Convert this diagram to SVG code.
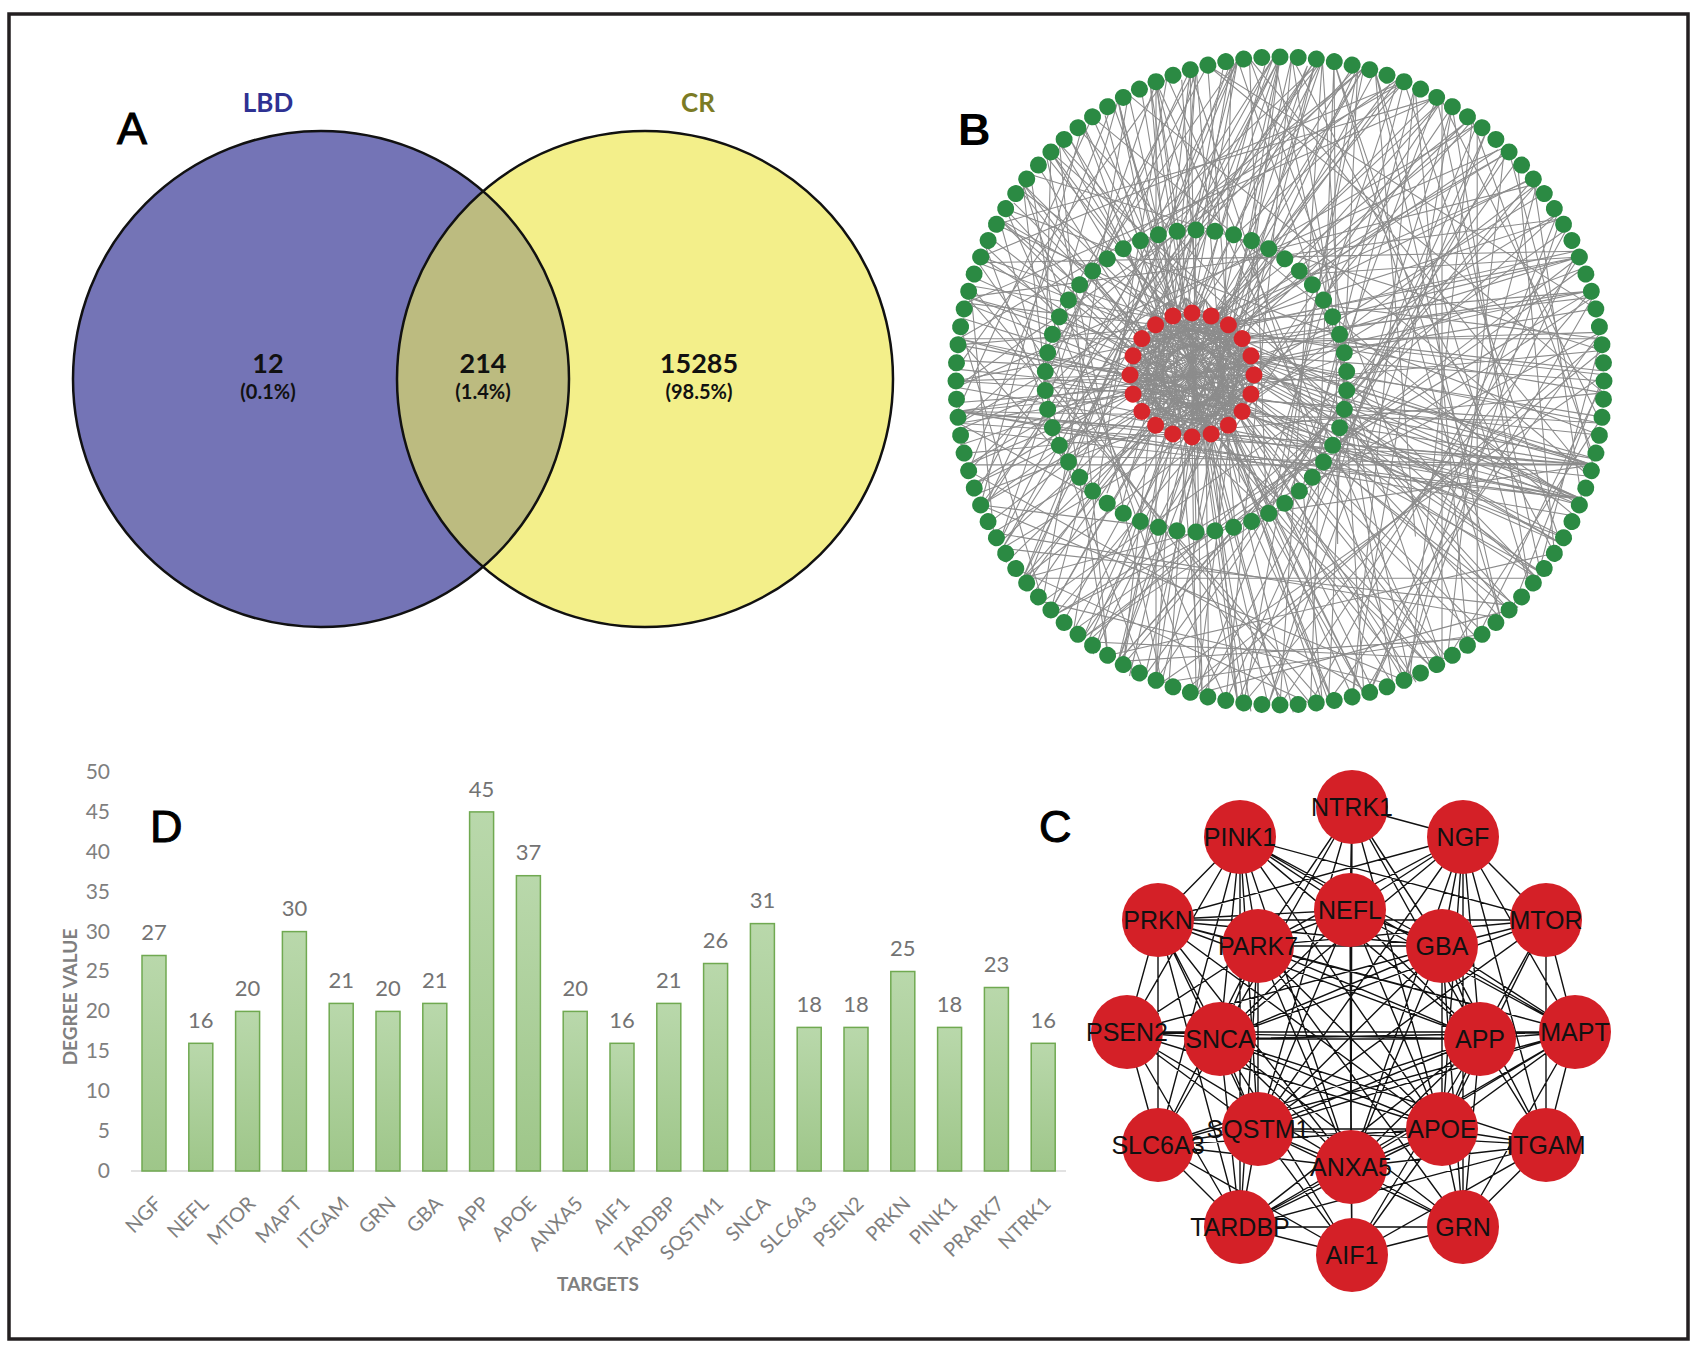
<svg xmlns="http://www.w3.org/2000/svg" xmlns:xlink="http://www.w3.org/1999/xlink" width="1700" height="1350" viewBox="0 0 1700 1350">
<style>
.pl{font-family:"Liberation Sans",Arial,sans-serif;font-size:45px;fill:#000;stroke:#000;stroke-width:1}
.vn{font-family:Lato,"Open Sans",sans-serif;font-weight:700;text-anchor:middle;fill:#111}
.tick{font-family:Lato,"Open Sans",sans-serif;font-size:21px;fill:#7f7f7f;text-anchor:end}
.dl{font-family:Lato,"Open Sans",sans-serif;font-size:22px;fill:#737373;text-anchor:middle}
.cat{font-family:Lato,"Open Sans",sans-serif;font-size:20px;fill:#7f7f7f;text-anchor:end}
.ax{font-family:Lato,"Open Sans",sans-serif;font-size:19px;font-weight:700;fill:#7f7f7f;text-anchor:middle}
.bar{fill:url(#bg);stroke:#70a951;stroke-width:1.5}
.cn{fill:#d42027}
.cl{font-family:"Liberation Sans",Arial,sans-serif;font-size:25px;text-anchor:middle;fill:#111}
.ce{stroke:#111;stroke-width:1.4;fill:none}
.be{stroke:#8c8c8c;stroke-width:1.1;fill:none}
</style>
<defs>
<linearGradient id="bg" x1="0" y1="0" x2="0" y2="1">
<stop offset="0" stop-color="#b9d8ab"/>
<stop offset="1" stop-color="#9ec689"/>
</linearGradient>
<clipPath id="clipL"><circle cx="321" cy="379" r="248"/></clipPath>
<circle id="gn" cx="0" cy="-324" r="8.5" fill="#2b8a43"/>
<circle id="gm" cx="0" cy="-151" r="8.5" fill="#2b8a43"/>
<circle id="rn" cx="0" cy="-62" r="8.5" fill="#d7262b"/>
<g id="o4"><use xlink:href="#gn"/><use xlink:href="#gn" transform="rotate(3.2143)"/><use xlink:href="#gn" transform="rotate(6.4286)"/><use xlink:href="#gn" transform="rotate(9.6429)"/></g>
<g id="m5"><use xlink:href="#gm"/><use xlink:href="#gm" transform="rotate(7.2)"/><use xlink:href="#gm" transform="rotate(14.4)"/><use xlink:href="#gm" transform="rotate(21.6)"/><use xlink:href="#gm" transform="rotate(28.8)"/></g>
<g id="r5"><use xlink:href="#rn"/><use xlink:href="#rn" transform="rotate(18)"/><use xlink:href="#rn" transform="rotate(36)"/><use xlink:href="#rn" transform="rotate(54)"/><use xlink:href="#rn" transform="rotate(72)"/></g>
</defs>
<rect x="0" y="0" width="1700" height="1350" fill="#fff"/>
<rect x="9" y="14" width="1679" height="1325" fill="#fff" stroke="#231f20" stroke-width="3.5"/>

<!-- Panel A: Venn -->
<g id="panelA">
<g id="venn-LBD"><circle cx="321" cy="379" r="248" fill="#7474b6"/></g>
<g id="venn-CR"><circle cx="645" cy="379" r="248" fill="#f3ef8a"/></g>
<g id="venn-overlap"><circle cx="645" cy="379" r="248" fill="#bcbb80" clip-path="url(#clipL)"/></g>
<circle cx="321" cy="379" r="248" fill="none" stroke="#111" stroke-width="2.5"/>
<circle cx="645" cy="379" r="248" fill="none" stroke="#111" stroke-width="2.5"/>
<text class="pl" x="117" y="144">A</text>
<text class="vn" x="268" y="112" font-size="26" style="fill:#2e3192">LBD</text>
<text class="vn" x="698" y="112" font-size="26" style="fill:#7b7b25">CR</text>
<text class="vn" x="268" y="373" font-size="27">12</text>
<text class="vn" x="268" y="399" font-size="20">(0.1%)</text>
<text class="vn" x="483" y="373" font-size="27">214</text>
<text class="vn" x="483" y="399" font-size="20">(1.4%)</text>
<text class="vn" x="699" y="373" font-size="27">15285</text>
<text class="vn" x="699" y="399" font-size="20">(98.5%)</text>
</g>

<!-- Panel B: network -->
<g id="panelB">
<text class="pl" x="958" y="145" font-weight="bold" font-size="46" style="stroke-width:0">B</text>
<g transform="translate(1280 381)">
<g id="B-connectors">
<path id="bIn" class="be" d="M-88 -68L-88 56M-68.8 -65L-107.2 53M-51.6 -56.2L-124.4 44.2M-37.8 -42.4L-138.2 30.4M-29 -25.2L-147 13.2M-26 -6L-150 -6M-29 13.2L-147 -25.2M-37.8 30.4L-138.2 -42.4M-51.6 44.2L-124.4 -56.2M-68.8 53L-107.2 -65M-88 -68L-37.8 30.4M-68.8 -65L-51.6 44.2M-51.6 -56.2L-68.8 53M-37.8 -42.4L-88 56M-29 -25.2L-107.2 53M-26 -6L-124.4 44.2M-29 13.2L-138.2 30.4M-37.8 30.4L-147 13.2M-51.6 44.2L-150 -6M-68.8 53L-147 -25.2M-88 56L-138.2 -42.4M-107.2 53L-124.4 -56.2M-124.4 44.2L-107.2 -65M-138.2 30.4L-88 -68M-147 13.2L-68.8 -65M-150 -6L-51.6 -56.2M-147 -25.2L-37.8 -42.4M-138.2 -42.4L-29 -25.2M-124.4 -56.2L-26 -6M-107.2 -65L-29 13.2M-88 -68L-26 -6M-51.6 -56.2L-147 13.2M-29 -25.2L-68.8 53M-29 13.2L-107.2 53M-51.6 44.2L-138.2 30.4M-88 56L-150 -6M-124.4 44.2L-138.2 -42.4M-147 13.2L-107.2 -65M-147 -25.2L-68.8 -65M-124.4 -56.2L-37.8 -42.4M-68.8 -65L-29 13.2M-37.8 -42.4L-51.6 44.2M-26 -6L-88 56M-37.8 30.4L-124.4 44.2M-68.8 53L-147 13.2M-107.2 53L-147 -25.2M-138.2 30.4L-124.4 -56.2M-150 -6L-88 -68M-138.2 -42.4L-51.6 -56.2M-107.2 -65L-29 -25.2"/>
<use xlink:href="#bIn" transform="rotate(9 -88 -6)"/>
<use xlink:href="#bIn" transform="translate(-176 0) scale(-1 1) rotate(5 88 -6)"/>
<path id="bRad" class="be" d="M-88 -68L0 -324M-88 -68L-42.3 -321.2M-88 -68L42.3 -321.2M-88 -68L-124 -299.3M-68.8 -65L83.9 -313M-68.8 -65L124 -299.3M-68.8 -65L162 -280.6M-51.6 -56.2L229.1 -229.1M-51.6 -56.2L280.6 -162M-51.6 -56.2L197.2 -257.1M-37.8 -42.4L313 -83.9M-37.8 -42.4L299.3 -124M-29 -25.2L324 0M-29 -25.2L313 83.9M-29 -25.2L321.2 42.3M-26 -6L299.3 124M-26 -6L280.6 162M-29 13.2L229.1 229.1M-29 13.2L257.1 197.2M-37.8 30.4L162 280.6M-37.8 30.4L124 299.3M-51.6 44.2L83.9 313M-51.6 44.2L42.3 321.2M-68.8 53L0 324M-68.8 53L-42.3 321.2M-88 56L-83.9 313M-88 56L-124 299.3M-107.2 53L-162 280.6M-107.2 53L-197.2 257.1M-124.4 44.2L-257.1 197.2M-124.4 44.2L-229.1 229.1M-138.2 30.4L-299.3 124M-138.2 30.4L-280.6 162M-147 13.2L-313 83.9M-147 13.2L-321.2 42.3M-150 -6L-324 0M-150 -6L-321.2 -42.3M-147 -25.2L-313 -83.9M-147 -25.2L-299.3 -124M-138.2 -42.4L-280.6 -162M-138.2 -42.4L-257.1 -197.2M-124.4 -56.2L-229.1 -229.1M-124.4 -56.2L-197.2 -257.1M-107.2 -65L-162 -280.6M-107.2 -65L-83.9 -313M-37.8 -42.4L-162 280.6M-124.4 44.2L162 -280.6M-147 -25.2L280.6 162M-37.8 30.4L-229.1 -229.1M-88 56L0 -324M-147 13.2L299.3 -124M-51.6 -56.2L-299.3 124M-124.4 -56.2L83.9 313"/>
<use xlink:href="#bRad" transform="rotate(5 -88 -6)"/>
<path id="bOut" class="be" d="M0 -324L-83.9 313M42.3 -321.2L83.9 313M-42.3 -321.2L162 280.6M42.3 -321.2L-162 280.6M0 -324L-84 151M-42.3 -321.2L-159.5 130.8M-83.9 -313L-44.9 145.9M83.9 -313L-8.5 130.8M124 -299.3L22.8 106.8M-124 -299.3L46.8 75.5M0 -324L-214.8 75.5M-42.3 -321.2L-257.1 197.2M42.3 -321.2L0 324M124 -299.3L280.6 162M162 -280.6L321.2 42.3M197.2 -257.1L197.2 257.1M229.1 -229.1L313 83.9M257.1 -197.2L124 299.3M299.3 -124L0 324M313 -83.9L-197.2 257.1M321.2 -42.3L257.1 197.2M313 83.9L-321.2 42.3M313 83.9L-313 83.9M313 83.9L-229.9 39.1M313 83.9L-214.8 75.5M313 83.9L-313 -83.9M321.2 42.3L-324 0M313 83.9L-299.3 -124M299.3 124L-321.2 -42.3M313 83.9L-235 0M257.1 197.2L-257.1 197.2M229.1 229.1L-83.9 313M197.2 257.1L-162 280.6M162 280.6L-280.6 -162M124 299.3L-299.3 124M83.9 313L-197.2 -257.1M42.3 321.2L-313 -83.9M0 324L-162 -280.6M-42.3 321.2L-124 -299.3M-83.9 313L-257.1 -197.2M-124 299.3L-83.9 -313M-162 280.6L257.1 -197.2M-197.2 257.1L162 -280.6M-229.1 229.1L83.9 -313M-257.1 197.2L0 -324M-280.6 162L-124 -299.3M-299.3 124L-197.2 -257.1M-313 83.9L229.1 -229.1M-321.2 42.3L197.2 -257.1M-324 0L299.3 -124M-321.2 -42.3L321.2 -42.3M-313 -83.9L280.6 -162M-299.3 -124L124 -299.3M-280.6 -162L280.6 162M-257.1 -197.2L197.2 257.1M-229.1 -229.1L257.1 197.2M-197.2 -257.1L83.9 313M-162 -280.6L-42.3 321.2M-124 -299.3L-124 299.3M-83.9 -313L-229.1 229.1M-42.3 -321.2L-280.6 162M42.3 -321.2L-299.3 124M83.9 -313L-321.2 42.3M124 -299.3L-321.2 -42.3M162 -280.6L162 280.6M197.2 -257.1L-42.3 321.2M229.1 -229.1L-124 299.3M257.1 -197.2L-257.1 197.2M280.6 -162L124 299.3M299.3 -124L-197.2 257.1M313 -83.9L83.9 313M321.2 -42.3L-83.9 313M324 0L197.2 257.1"/>
<use xlink:href="#bOut" transform="rotate(6.4)"/>
<use xlink:href="#bOut" transform="scale(-1 1) rotate(-9.6)"/>
<path class="be" d="M-84 -151L-124 -299.3M-8.5 -130.8L257.1 -197.2M46.8 -75.5L321.2 -42.3M67 0L257.1 197.2M46.8 75.5L124 299.3M-8.5 130.8L-83.9 313M-84 151L-257.1 197.2M-159.5 130.8L-321.2 42.3M-214.8 75.5L-280.6 -162M-235 0L-229.1 -229.1M-214.8 -75.5L-83.9 -313M-159.5 -130.8L42.3 -321.2M-44.9 -145.9L124 -299.3M22.8 -106.8L299.3 -124M61.9 -39.1L299.3 124M61.9 39.1L229.1 229.1M22.8 106.8L42.3 321.2M-44.9 145.9L-162 280.6M-123.1 145.9L-299.3 124M-190.8 106.8L-321.2 -42.3M-229.9 39.1L-257.1 -197.2M-229.9 -39.1L-162 -280.6M-190.8 -106.8L-42.3 -321.2M-123.1 -145.9L83.9 -313M-84 -151L-88 56M67 0L-150 -6M-84 151L-88 -68M-235 0L-26 -6M22.8 -106.8L-138.2 30.4M22.8 106.8L-124.4 -56.2M-190.8 106.8L-37.8 -42.4M-190.8 -106.8L-51.6 44.2M61.9 -39.1L324 -10M-8.5 130.8L313 83.9"/>
</g>
<g id="B-outer-ring">
<use xlink:href="#o4"/><use xlink:href="#o4" transform="rotate(12.857)"/><use xlink:href="#o4" transform="rotate(25.714)"/><use xlink:href="#o4" transform="rotate(38.571)"/><use xlink:href="#o4" transform="rotate(51.429)"/><use xlink:href="#o4" transform="rotate(64.286)"/><use xlink:href="#o4" transform="rotate(77.143)"/><use xlink:href="#o4" transform="rotate(90)"/><use xlink:href="#o4" transform="rotate(102.857)"/><use xlink:href="#o4" transform="rotate(115.714)"/><use xlink:href="#o4" transform="rotate(128.571)"/><use xlink:href="#o4" transform="rotate(141.429)"/><use xlink:href="#o4" transform="rotate(154.286)"/><use xlink:href="#o4" transform="rotate(167.143)"/><use xlink:href="#o4" transform="rotate(180)"/><use xlink:href="#o4" transform="rotate(192.857)"/><use xlink:href="#o4" transform="rotate(205.714)"/><use xlink:href="#o4" transform="rotate(218.571)"/><use xlink:href="#o4" transform="rotate(231.429)"/><use xlink:href="#o4" transform="rotate(244.286)"/><use xlink:href="#o4" transform="rotate(257.143)"/><use xlink:href="#o4" transform="rotate(270)"/><use xlink:href="#o4" transform="rotate(282.857)"/><use xlink:href="#o4" transform="rotate(295.714)"/><use xlink:href="#o4" transform="rotate(308.571)"/><use xlink:href="#o4" transform="rotate(321.429)"/><use xlink:href="#o4" transform="rotate(334.286)"/><use xlink:href="#o4" transform="rotate(347.143)"/>
</g>
<g id="B-middle-ring" transform="translate(-84 0)">
<use xlink:href="#m5"/><use xlink:href="#m5" transform="rotate(36)"/><use xlink:href="#m5" transform="rotate(72)"/><use xlink:href="#m5" transform="rotate(108)"/><use xlink:href="#m5" transform="rotate(144)"/><use xlink:href="#m5" transform="rotate(180)"/><use xlink:href="#m5" transform="rotate(216)"/><use xlink:href="#m5" transform="rotate(252)"/><use xlink:href="#m5" transform="rotate(288)"/><use xlink:href="#m5" transform="rotate(324)"/>
</g>
<g id="B-inner-ring" transform="translate(-88 -6)">
<use xlink:href="#r5"/><use xlink:href="#r5" transform="rotate(90)"/><use xlink:href="#r5" transform="rotate(180)"/><use xlink:href="#r5" transform="rotate(270)"/>
</g>
</g>
</g>

<!-- Panel D: bar chart -->
<g id="panelD">
<text class="pl" x="150" y="842">D</text>
<line x1="131" y1="1171" x2="1066" y2="1171" stroke="#d9d9d9" stroke-width="1.5"/>
<g id="yticks">
<text class="tick" x="110" y="1178">0</text>
<text class="tick" x="110" y="1138">5</text>
<text class="tick" x="110" y="1098">10</text>
<text class="tick" x="110" y="1058">15</text>
<text class="tick" x="110" y="1018">20</text>
<text class="tick" x="110" y="978">25</text>
<text class="tick" x="110" y="939">30</text>
<text class="tick" x="110" y="899">35</text>
<text class="tick" x="110" y="859">40</text>
<text class="tick" x="110" y="819">45</text>
<text class="tick" x="110" y="779">50</text>
</g>
<g id="bars">
<rect class="bar" x="142" y="955.5" width="24" height="215.5"/>
<rect class="bar" x="188.8" y="1043.3" width="24" height="127.7"/>
<rect class="bar" x="235.6" y="1011.4" width="24" height="159.6"/>
<rect class="bar" x="282.4" y="931.6" width="24" height="239.4"/>
<rect class="bar" x="329.2" y="1003.4" width="24" height="167.6"/>
<rect class="bar" x="376" y="1011.4" width="24" height="159.6"/>
<rect class="bar" x="422.8" y="1003.4" width="24" height="167.6"/>
<rect class="bar" x="469.6" y="811.9" width="24" height="359.1"/>
<rect class="bar" x="516.4" y="875.7" width="24" height="295.3"/>
<rect class="bar" x="563.2" y="1011.4" width="24" height="159.6"/>
<rect class="bar" x="610" y="1043.3" width="24" height="127.7"/>
<rect class="bar" x="656.8" y="1003.4" width="24" height="167.6"/>
<rect class="bar" x="703.6" y="963.5" width="24" height="207.5"/>
<rect class="bar" x="750.4" y="923.6" width="24" height="247.4"/>
<rect class="bar" x="797.2" y="1027.4" width="24" height="143.6"/>
<rect class="bar" x="844" y="1027.4" width="24" height="143.6"/>
<rect class="bar" x="890.8" y="971.5" width="24" height="199.5"/>
<rect class="bar" x="937.6" y="1027.4" width="24" height="143.6"/>
<rect class="bar" x="984.4" y="987.5" width="24" height="183.5"/>
<rect class="bar" x="1031.2" y="1043.3" width="24" height="127.7"/>
</g>
<g id="datalabels">
<text class="dl" x="154" y="940">27</text>
<text class="dl" x="200.8" y="1028">16</text>
<text class="dl" x="247.6" y="996">20</text>
<text class="dl" x="294.4" y="916">30</text>
<text class="dl" x="341.2" y="988">21</text>
<text class="dl" x="388" y="996">20</text>
<text class="dl" x="434.8" y="988">21</text>
<text class="dl" x="481.6" y="797">45</text>
<text class="dl" x="528.4" y="860">37</text>
<text class="dl" x="575.2" y="996">20</text>
<text class="dl" x="622" y="1028">16</text>
<text class="dl" x="668.8" y="988">21</text>
<text class="dl" x="715.6" y="948">26</text>
<text class="dl" x="762.4" y="908">31</text>
<text class="dl" x="809.2" y="1012">18</text>
<text class="dl" x="856" y="1012">18</text>
<text class="dl" x="902.8" y="956">25</text>
<text class="dl" x="949.6" y="1012">18</text>
<text class="dl" x="996.4" y="972">23</text>
<text class="dl" x="1043.2" y="1028">16</text>
</g>
<g id="categories">
<text class="cat" x="163" y="1205" transform="rotate(-45 163 1205)">NGF</text>
<text class="cat" x="209.8" y="1205" transform="rotate(-45 209.8 1205)">NEFL</text>
<text class="cat" x="256.6" y="1205" transform="rotate(-45 256.6 1205)">MTOR</text>
<text class="cat" x="303.4" y="1205" transform="rotate(-45 303.4 1205)">MAPT</text>
<text class="cat" x="350.2" y="1205" transform="rotate(-45 350.2 1205)">ITGAM</text>
<text class="cat" x="397" y="1205" transform="rotate(-45 397 1205)">GRN</text>
<text class="cat" x="443.8" y="1205" transform="rotate(-45 443.8 1205)">GBA</text>
<text class="cat" x="490.6" y="1205" transform="rotate(-45 490.6 1205)">APP</text>
<text class="cat" x="537.4" y="1205" transform="rotate(-45 537.4 1205)">APOE</text>
<text class="cat" x="584.2" y="1205" transform="rotate(-45 584.2 1205)">ANXA5</text>
<text class="cat" x="631" y="1205" transform="rotate(-45 631 1205)">AIF1</text>
<text class="cat" x="677.8" y="1205" transform="rotate(-45 677.8 1205)">TARDBP</text>
<text class="cat" x="724.6" y="1205" transform="rotate(-45 724.6 1205)">SQSTM1</text>
<text class="cat" x="771.4" y="1205" transform="rotate(-45 771.4 1205)">SNCA</text>
<text class="cat" x="818.2" y="1205" transform="rotate(-45 818.2 1205)">SLC6A3</text>
<text class="cat" x="865" y="1205" transform="rotate(-45 865 1205)">PSEN2</text>
<text class="cat" x="911.8" y="1205" transform="rotate(-45 911.8 1205)">PRKN</text>
<text class="cat" x="958.6" y="1205" transform="rotate(-45 958.6 1205)">PINK1</text>
<text class="cat" x="1005.4" y="1205" transform="rotate(-45 1005.4 1205)">PRARK7</text>
<text class="cat" x="1052.2" y="1205" transform="rotate(-45 1052.2 1205)">NTRK1</text>
</g>
<text class="ax" x="598" y="1291">TARGETS</text>
<text class="ax" x="0" y="0" transform="translate(77 997) rotate(-90)">DEGREE VALUE</text>
</g>

<!-- Panel C: core network -->
<g id="panelC">
<text class="pl" x="1039" y="842">C</text>
<g id="C-connectors">
<path class="ce" d="M1352 807L1463 837M1352 807L1350 910M1352 807L1442 946M1352 807L1220 1039M1352 807L1480 1039M1352 807L1442 1129M1352 807L1258 946M1352 807L1258 1129M1352 807L1351 1167M1240 837L1350 910M1240 837L1158 920M1240 837L1546 920M1240 837L1258 946M1240 837L1442 946M1240 837L1127 1032M1240 837L1220 1039M1240 837L1480 1039M1240 837L1158 1145M1240 837L1258 1129M1240 837L1442 1129M1240 837L1351 1167M1240 837L1240 1227M1240 837L1575 1032M1463 837L1350 910M1463 837L1546 920M1463 837L1258 946M1463 837L1442 946M1463 837L1220 1039M1463 837L1480 1039M1463 837L1575 1032M1463 837L1258 1129M1463 837L1442 1129M1463 837L1158 920M1463 837L1351 1167M1463 837L1463 1227M1463 837L1546 1145M1350 910L1158 920M1350 910L1258 946M1350 910L1442 946M1350 910L1220 1039M1350 910L1480 1039M1350 910L1575 1032M1350 910L1258 1129M1350 910L1442 1129M1350 910L1351 1167M1350 910L1352 1255M1158 920L1546 920M1158 920L1258 946M1158 920L1127 1032M1158 920L1220 1039M1158 920L1480 1039M1158 920L1158 1145M1158 920L1258 1129M1158 920L1442 1129M1158 920L1351 1167M1158 920L1240 1227M1158 920L1442 946M1158 920L1575 1032M1546 920L1442 946M1546 920L1480 1039M1546 920L1575 1032M1546 920L1442 1129M1546 920L1220 1039M1546 920L1258 946M1546 920L1258 1129M1546 920L1546 1145M1258 946L1442 946M1258 946L1127 1032M1258 946L1220 1039M1258 946L1480 1039M1258 946L1575 1032M1258 946L1158 1145M1258 946L1258 1129M1258 946L1442 1129M1258 946L1351 1167M1258 946L1240 1227M1258 946L1463 1227M1442 946L1220 1039M1442 946L1480 1039M1442 946L1575 1032M1442 946L1442 1129M1442 946L1258 1129M1442 946L1546 1145M1442 946L1351 1167M1442 946L1463 1227M1442 946L1127 1032M1127 1032L1220 1039M1127 1032L1480 1039M1127 1032L1575 1032M1127 1032L1158 1145M1127 1032L1258 1129M1127 1032L1442 1129M1127 1032L1240 1227M1127 1032L1351 1167M1220 1039L1480 1039M1220 1039L1575 1032M1220 1039L1158 1145M1220 1039L1258 1129M1220 1039L1442 1129M1220 1039L1351 1167M1220 1039L1240 1227M1220 1039L1463 1227M1220 1039L1352 1255M1220 1039L1546 1145M1480 1039L1575 1032M1480 1039L1158 1145M1480 1039L1258 1129M1480 1039L1442 1129M1480 1039L1546 1145M1480 1039L1351 1167M1480 1039L1240 1227M1480 1039L1463 1227M1480 1039L1352 1255M1575 1032L1258 1129M1575 1032L1442 1129M1575 1032L1546 1145M1575 1032L1351 1167M1575 1032L1463 1227M1575 1032L1240 1227M1575 1032L1158 1145M1158 1145L1258 1129M1158 1145L1442 1129M1158 1145L1240 1227M1158 1145L1352 1255M1158 1145L1351 1167M1258 1129L1442 1129M1258 1129L1351 1167M1258 1129L1240 1227M1258 1129L1463 1227M1258 1129L1352 1255M1258 1129L1546 1145M1442 1129L1546 1145M1442 1129L1351 1167M1442 1129L1240 1227M1442 1129L1463 1227M1442 1129L1352 1255M1546 1145L1351 1167M1546 1145L1463 1227M1546 1145L1352 1255M1546 1145L1240 1227M1351 1167L1240 1227M1351 1167L1463 1227M1351 1167L1352 1255M1240 1227L1463 1227M1240 1227L1352 1255M1463 1227L1352 1255"/>
</g>
<g id="C-NTRK1"><ellipse class="cn" cx="1352" cy="807" rx="36" ry="37"/><text class="cl" x="1352" y="816">NTRK1</text></g>
<g id="C-PINK1"><ellipse class="cn" cx="1240" cy="837" rx="36" ry="37"/><text class="cl" x="1240" y="846">PINK1</text></g>
<g id="C-NGF"><ellipse class="cn" cx="1463" cy="837" rx="36" ry="37"/><text class="cl" x="1463" y="846">NGF</text></g>
<g id="C-NEFL"><ellipse class="cn" cx="1350" cy="910" rx="36" ry="37"/><text class="cl" x="1350" y="919">NEFL</text></g>
<g id="C-PRKN"><ellipse class="cn" cx="1158" cy="920" rx="36" ry="37"/><text class="cl" x="1158" y="929">PRKN</text></g>
<g id="C-MTOR"><ellipse class="cn" cx="1546" cy="920" rx="36" ry="37"/><text class="cl" x="1546" y="929">MTOR</text></g>
<g id="C-PARK7"><ellipse class="cn" cx="1258" cy="946" rx="36" ry="37"/><text class="cl" x="1258" y="955">PARK7</text></g>
<g id="C-GBA"><ellipse class="cn" cx="1442" cy="946" rx="36" ry="37"/><text class="cl" x="1442" y="955">GBA</text></g>
<g id="C-PSEN2"><ellipse class="cn" cx="1127" cy="1032" rx="36" ry="37"/><text class="cl" x="1127" y="1041">PSEN2</text></g>
<g id="C-SNCA"><ellipse class="cn" cx="1220" cy="1039" rx="36" ry="37"/><text class="cl" x="1220" y="1048">SNCA</text></g>
<g id="C-APP"><ellipse class="cn" cx="1480" cy="1039" rx="36" ry="37"/><text class="cl" x="1480" y="1048">APP</text></g>
<g id="C-MAPT"><ellipse class="cn" cx="1575" cy="1032" rx="36" ry="37"/><text class="cl" x="1575" y="1041">MAPT</text></g>
<g id="C-SLC6A3"><ellipse class="cn" cx="1158" cy="1145" rx="36" ry="37"/><text class="cl" x="1158" y="1154">SLC6A3</text></g>
<g id="C-SQSTM1"><ellipse class="cn" cx="1258" cy="1129" rx="36" ry="37"/><text class="cl" x="1258" y="1138">SQSTM1</text></g>
<g id="C-APOE"><ellipse class="cn" cx="1442" cy="1129" rx="36" ry="37"/><text class="cl" x="1442" y="1138">APOE</text></g>
<g id="C-ITGAM"><ellipse class="cn" cx="1546" cy="1145" rx="36" ry="37"/><text class="cl" x="1546" y="1154">ITGAM</text></g>
<g id="C-ANXA5"><ellipse class="cn" cx="1351" cy="1167" rx="36" ry="37"/><text class="cl" x="1351" y="1176">ANXA5</text></g>
<g id="C-TARDBP"><ellipse class="cn" cx="1240" cy="1227" rx="36" ry="37"/><text class="cl" x="1240" y="1236">TARDBP</text></g>
<g id="C-GRN"><ellipse class="cn" cx="1463" cy="1227" rx="36" ry="37"/><text class="cl" x="1463" y="1236">GRN</text></g>
<g id="C-AIF1"><ellipse class="cn" cx="1352" cy="1255" rx="36" ry="37"/><text class="cl" x="1352" y="1264">AIF1</text></g>
</g>
</svg>
